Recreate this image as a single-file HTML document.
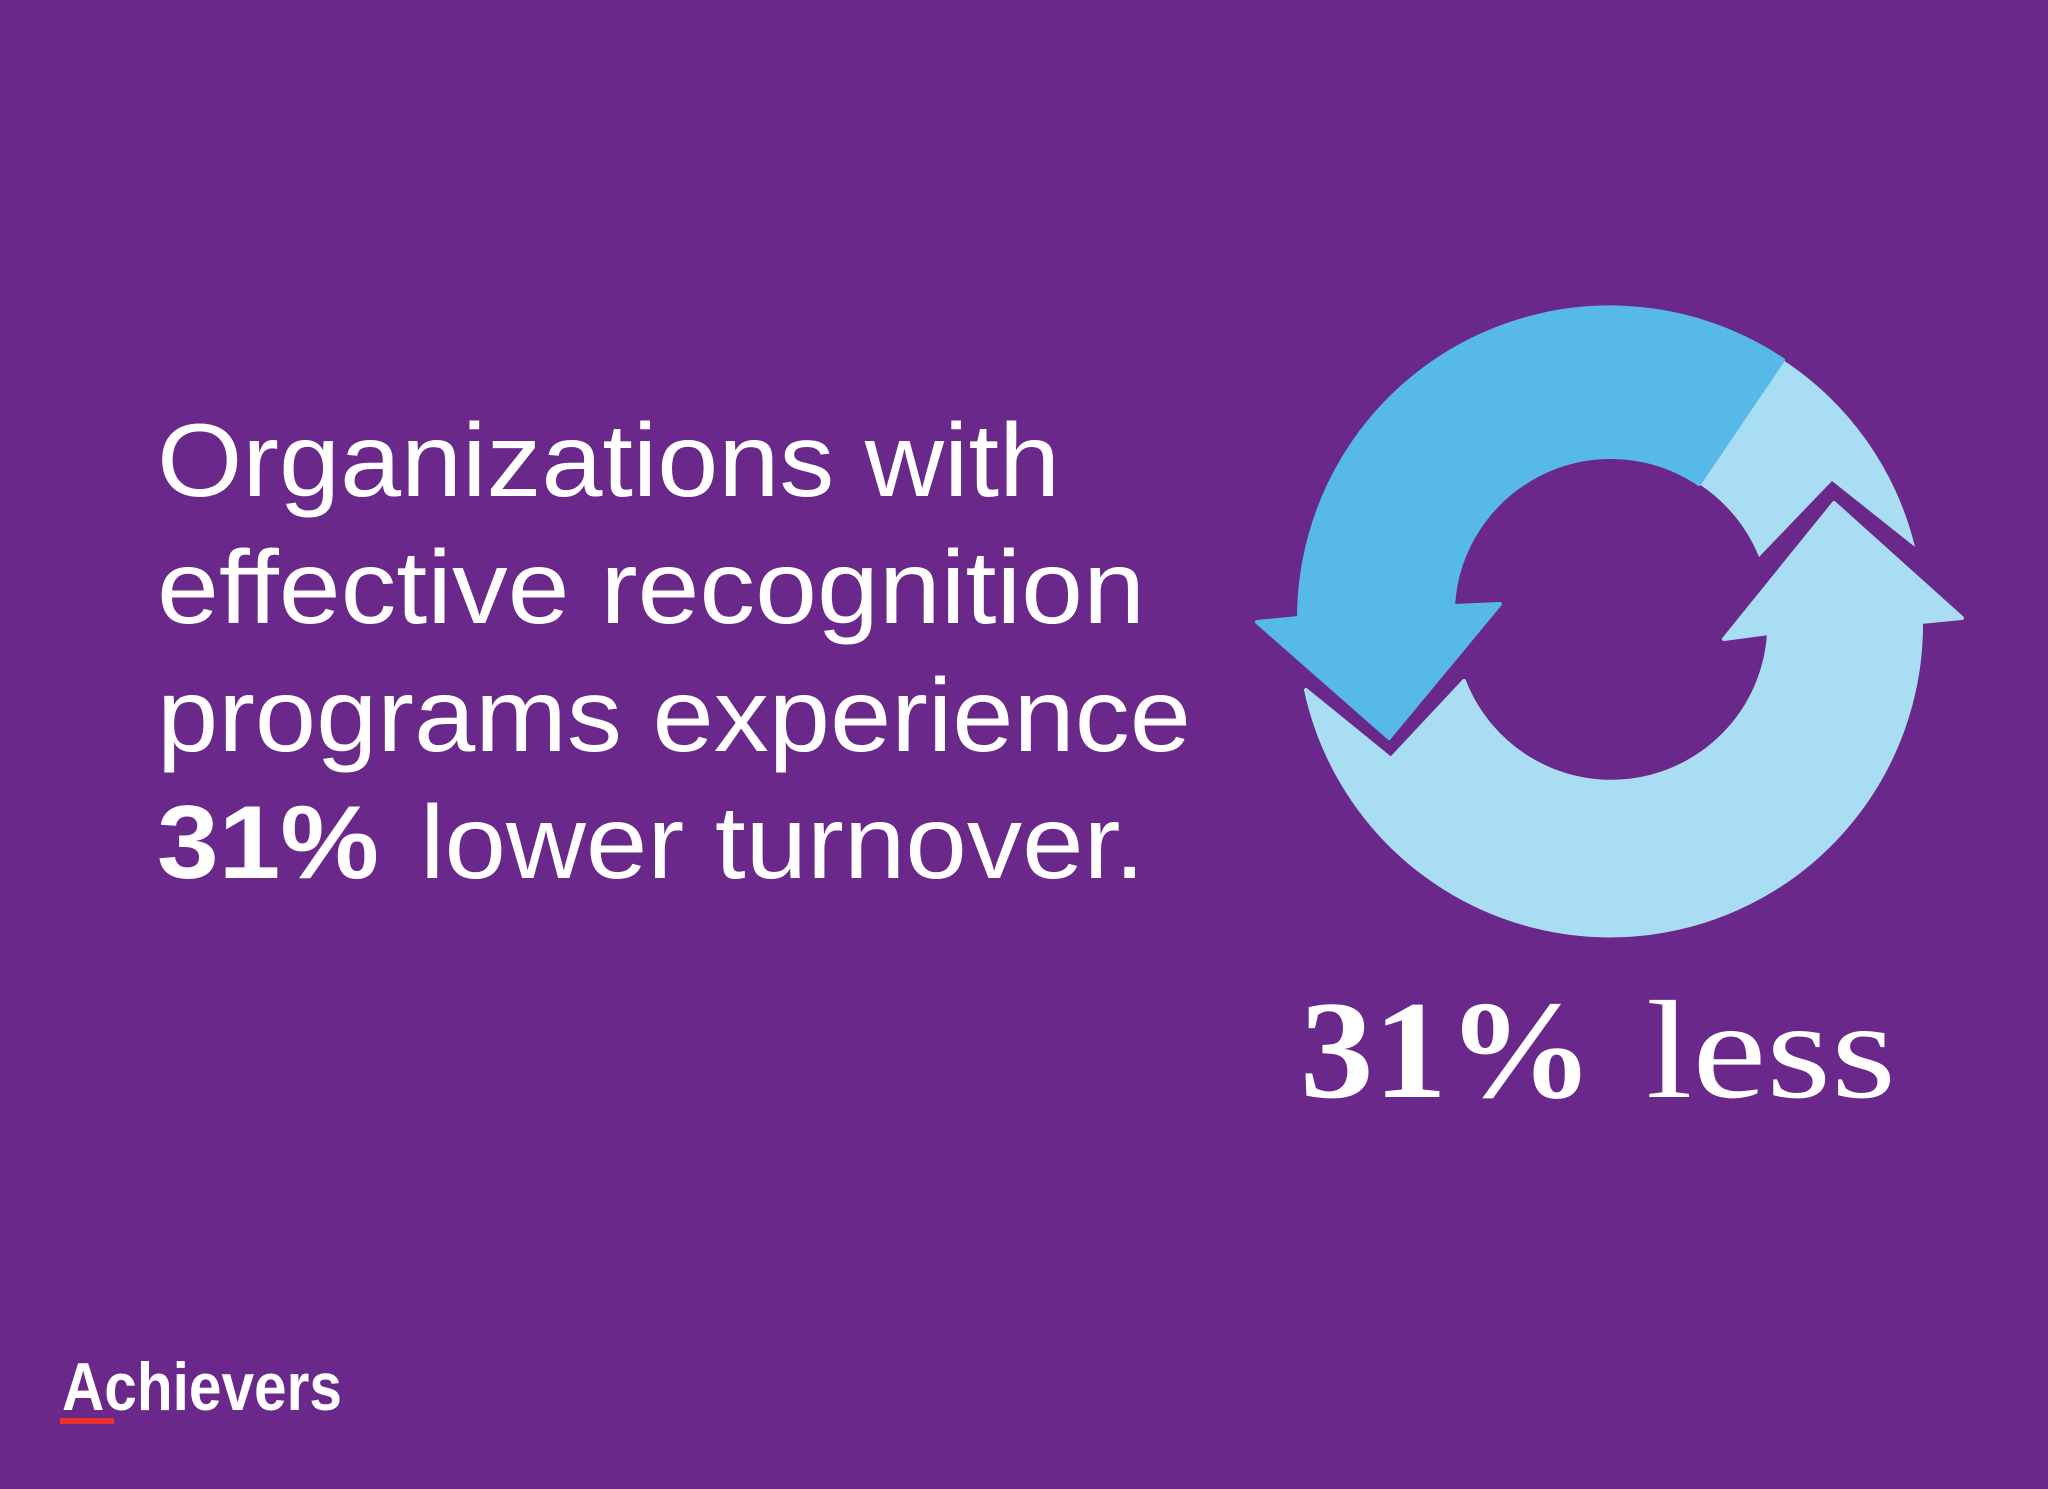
<!DOCTYPE html>
<html><head><meta charset="utf-8"><style>
html,body{margin:0;padding:0;background:#6b288b;}
svg{display:block}
</style></head><body>
<svg width="2048" height="1489" viewBox="0 0 2048 1489" xmlns="http://www.w3.org/2000/svg">
<rect width="2048" height="1489" fill="#6b288b"/>
<g font-family="'Liberation Sans', sans-serif" fill="#ffffff" font-size="104">
<text x="157" y="496" textLength="903" lengthAdjust="spacingAndGlyphs">Organizations with</text>
<text x="157" y="623" textLength="988" lengthAdjust="spacingAndGlyphs">effective recognition</text>
<text x="157" y="751" textLength="1034" lengthAdjust="spacingAndGlyphs">programs experience</text>
<text x="157" y="878" font-weight="bold" textLength="222" lengthAdjust="spacingAndGlyphs">31%</text>
<text x="420" y="878" textLength="725" lengthAdjust="spacingAndGlyphs">lower turnover.</text>
</g>
<g>
<path d="M1306,690 A311,311 0 0 0 1921,622 L1962,618 L1834,503 L1724,639 L1769,633 A158,158 0 0 1 1464,681 L1391,759 Z" fill="#a9ddf4" stroke="#a9ddf4" stroke-width="4" stroke-linejoin="round"/>
<path d="M1783,360 A311,311 0 0 1 1915,547 L1832,481 L1759,557 A158,158 0 0 0 1699,484 Z" fill="#a9ddf4"/>
<path d="M1783,360 A311,311 0 0 0 1299,618 L1257,622 L1389,738 L1500,604 L1453,606 A158,158 0 0 1 1699,484 Z" fill="#56b9e8" stroke="#56b9e8" stroke-width="4" stroke-linejoin="round"/>
</g>
<g font-family="'Liberation Serif', serif" font-size="140" fill="#ffffff">
<text x="1300" y="1097" font-weight="bold" textLength="294" lengthAdjust="spacingAndGlyphs">31%</text>
<text x="1646" y="1097" textLength="250" lengthAdjust="spacingAndGlyphs">less</text>
</g>
<g>
<text x="62" y="1410" font-family="'Liberation Sans', sans-serif" font-weight="bold" font-size="68" fill="#ffffff" textLength="280" lengthAdjust="spacingAndGlyphs">Achievers</text>
<rect x="60" y="1418" width="54" height="6" fill="#e8322b"/>
</g>
</svg>
</body></html>
